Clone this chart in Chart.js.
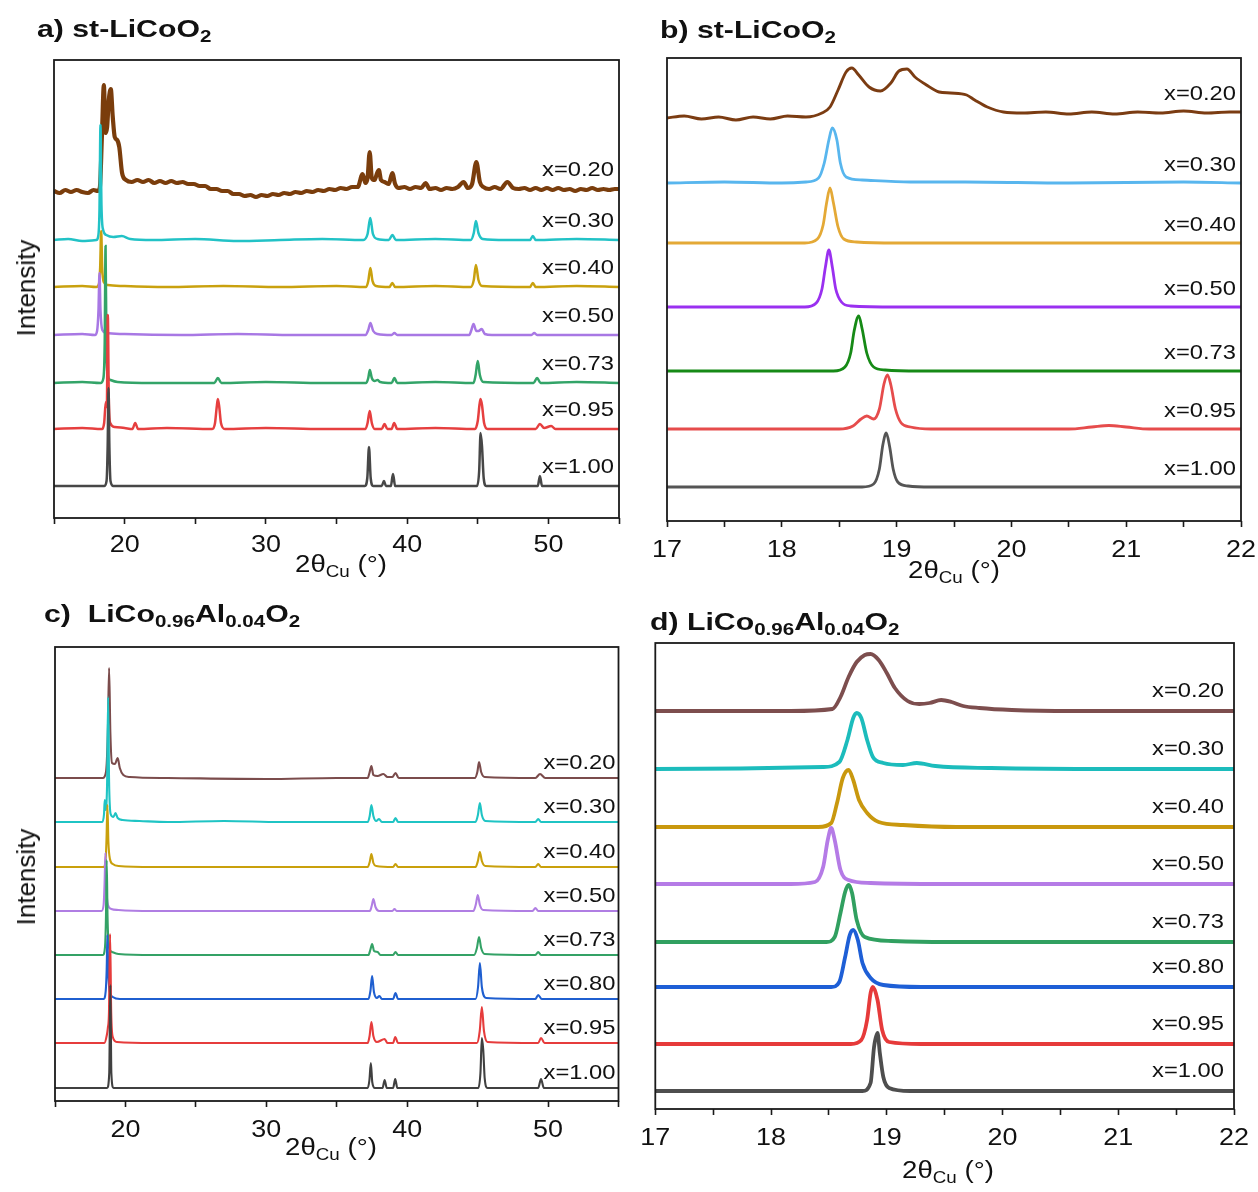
<!DOCTYPE html>
<html>
<head>
<meta charset="utf-8">
<script src="https://cdn.jsdelivr.net/npm/chart.js@4.4.1/dist/chart.umd.min.js"></script>
<style>
html,body{margin:0;padding:0;background:#fff;}
body{width:1258px;height:1192px;position:relative;overflow:hidden;font-family:"Liberation Sans",Arial,sans-serif;color:#111;}
canvas{position:absolute;}
.t{position:absolute;white-space:nowrap;line-height:1;}
.title{font-weight:bold;font-size:24px;transform-origin:0 0;}
.t sub{font-size:0.68em;vertical-align:baseline;position:relative;top:0.32em;line-height:0;}
.ax{font-size:23px;transform:translateX(-50%) scaleX(1.2);}
.yl{font-size:26px;transform:translate(-50%,-50%) rotate(-90deg);}
</style>
</head>
<body>
<canvas id="pa" width="629" height="600" style="left:0;top:0"></canvas>
<canvas id="pb" width="629" height="600" style="left:629px;top:0"></canvas>
<canvas id="pc" width="629" height="592" style="left:0;top:600px"></canvas>
<canvas id="pd" width="629" height="592" style="left:629px;top:600px"></canvas>

<div class="t title" style="left:37px;top:16.7px;transform:scaleX(1.26)">a) st-LiCoO<sub>2</sub></div>
<div class="t title" style="left:660px;top:17.7px;transform:scaleX(1.26)">b) st-LiCoO<sub>2</sub></div>
<div class="t title" style="left:44px;top:601.7px;transform:scaleX(1.26)">c)&nbsp; LiCo<sub>0.96</sub>Al<sub>0.04</sub>O<sub>2</sub></div>
<div class="t title" style="left:650px;top:609.7px;transform:scaleX(1.26)">d) LiCo<sub>0.96</sub>Al<sub>0.04</sub>O<sub>2</sub></div>

<div class="t ax" style="left:341px;top:552.5px">2θ<sub>Cu</sub> (°)</div>
<div class="t ax" style="left:954px;top:558.5px">2θ<sub>Cu</sub> (°)</div>
<div class="t ax" style="left:331px;top:1135.5px">2θ<sub>Cu</sub> (°)</div>
<div class="t ax" style="left:948px;top:1158.5px">2θ<sub>Cu</sub> (°)</div>

<div class="t yl" style="left:26px;top:288px">Intensity</div>
<div class="t yl" style="left:26px;top:877px">Intensity</div>

<script>
// ---------- a) st-LiCoO2, wide 2θ scan: [2θ, intensity above the trace's own baseline] ----------
const compsA = ['0.20', '0.30', '0.40', '0.50', '0.73', '0.95', '1.00'];
const offsetsA = [326, 278, 231, 183, 135, 89, 32];
const a020 = [[15,1],[15.4,-1],[15.8,2],[16.2,0],[16.6,2],[17,0],[17.4,-1],[17.8,2],[18.1,1],[18.25,5],[18.39,55],[18.53,107],[18.65,59],[18.76,65],[18.88,92],[19.02,103],[19.16,75],[19.3,55],[19.47,52],[19.62,45],[19.82,19],[20.1,12],[20.5,10],[20.9,12],[21.3,10],[21.7,12],[22.1,9],[22.5,11],[22.9,9],[23.3,11],[23.7,9],[24.1,10],[24.5,8],[24.9,8],[25.3,6],[25.7,6],[26.1,3],[26.5,3],[26.9,1],[27.3,1],[27.7,-2],[28.1,-2],[28.5,-4],[28.9,-3],[29.3,-5],[29.7,-3],[30.1,-4],[30.5,-2],[30.9,-3],[31.3,-1],[31.7,-2],[32.1,0],[32.5,-1],[32.9,1],[33.3,0],[33.7,2],[34.1,1],[34.5,3],[34.9,2],[35.3,4],[35.7,3],[36.1,5],[36.5,5],[36.85,18],[37.05,9],[37.2,14],[37.35,40],[37.5,14],[37.7,12],[37.85,18],[38.0,22],[38.15,12],[38.4,10],[38.7,8],[38.95,19],[39.15,8],[39.4,4],[39.8,5],[40.2,3],[40.6,5],[41.0,4],[41.3,9],[41.6,3],[42.0,4],[42.4,2],[42.8,4],[43.2,3],[43.6,5],[44.0,10],[44.3,4],[44.6,8],[44.9,30],[45.15,10],[45.4,5],[45.8,3],[46.2,5],[46.6,3],[47.1,10],[47.5,4],[47.9,3],[48.3,4],[48.7,2],[49.1,4],[49.5,2],[49.9,4],[50.3,2],[50.7,4],[51.1,2],[51.5,3],[51.9,1],[52.3,3],[52.7,2],[53.1,4],[53.5,2],[53.9,3],[54.3,2],[54.7,3],[55,3]];
const a030 = [[15,0],[16,1],[17,-1],[18,0],[18.12,3],[18.22,30],[18.29,115],[18.36,35],[18.48,10],[18.7,5],[19.2,3],[19.8,4],[20.4,1],[22,0],[25,1],[28,-1],[31,0],[34,1],[36.9,0],[37.2,6],[37.39,22],[37.58,6],[37.9,1],[38.7,0],[38.96,5],[39.2,0],[42,1],[44.5,0],[44.72,7],[44.87,19],[45.05,7],[45.35,1],[47,0],[48.7,0],[48.9,4],[49.1,0],[52,1],[55,0]];
const a040 = [[15,0],[17,1],[18,0],[18.18,3],[18.27,20],[18.34,56],[18.41,20],[18.52,5],[18.8,2],[20,1],[23,0],[27,1],[31,0],[35,1],[37.1,0],[37.25,6],[37.4,19],[37.55,6],[37.8,1],[38.75,0],[38.95,4],[39.15,0],[42,1],[44.5,0],[44.72,7],[44.87,22],[45.05,7],[45.3,1],[48.7,0],[48.9,4],[49.1,0],[52,1],[55,0]];
const a050 = [[15,0],[17,1],[17.9,0],[18.05,4],[18.15,25],[18.22,62],[18.29,25],[18.42,5],[18.7,2],[20,1],[24,0],[28,1],[32,0],[37.05,0],[37.25,5],[37.4,12],[37.6,4],[37.9,1],[38.9,0],[39.1,2],[39.3,0],[44.4,0],[44.55,5],[44.7,11],[44.9,4],[45.05,4],[45.28,6],[45.5,1],[46,0],[48.8,0],[49,2],[49.2,0],[55,0]];
const a073 = [[15,0],[17,1],[18.3,0],[18.5,5],[18.59,40],[18.65,137],[18.71,40],[18.8,8],[19.0,3],[19.5,1],[22,0],[26.35,0],[26.6,5],[26.85,0],[30,1],[34,0],[37.1,0],[37.25,5],[37.36,13],[37.5,5],[37.7,2],[37.9,3],[38.1,1],[38.9,0],[39.1,5],[39.3,0],[42,1],[44.7,0],[44.85,8],[45.0,22],[45.15,8],[45.4,1],[48.95,0],[49.2,5],[49.45,0],[52,1],[55,0]];
const a095 = [[15,0],[17,1],[18.4,0],[18.55,6],[18.67,27],[18.74,22],[18.81,114],[18.88,30],[18.98,6],[19.3,2],[20.0,1],[20.55,0],[20.75,6],[20.95,0],[23,1],[26.2,0],[26.4,6],[26.52,22],[26.6,30],[26.7,22],[26.82,6],[27.1,0],[30,1],[34,0],[37.05,0],[37.2,6],[37.35,18],[37.5,6],[37.7,0],[38.2,0],[38.4,5],[38.6,0],[38.9,0],[39.08,6],[39.3,0],[42,1],[44.8,0],[45.0,8],[45.13,25],[45.2,30],[45.3,24],[45.45,6],[45.7,0],[49.1,0],[49.4,5],[49.7,1],[50.2,3],[50.5,0],[55,0]];
const a100 = [[15,0],[18.55,0],[18.72,5],[18.8,40],[18.86,98],[18.92,40],[19.0,5],[19.2,0],[37.0,0],[37.18,8],[37.3,39],[37.42,8],[37.6,0],[38.2,0],[38.36,5],[38.5,0],[38.85,0],[39.0,12],[39.15,0],[44.95,0],[45.1,15],[45.2,53],[45.3,40],[45.42,8],[45.6,0],[49.25,0],[49.4,10],[49.55,0],[55,0]];
const seriesA = [a020, a030, a040, a050, a073, a095, a100];

// ---------- b) st-LiCoO2, (003) region ----------
const compsB = ['0.20', '0.30', '0.40', '0.50', '0.73', '0.95', '1.00'];
const offsetsB = [403, 338, 278, 214, 150, 92, 34];
const b020 = [[17,0],[17.15,2],[17.3,-1],[17.45,1],[17.6,-2],[17.75,1],[17.9,-1],[18.05,2],[18.21,1],[18.35,5],[18.42,11],[18.49,28],[18.56,46],[18.61,50],[18.67,43],[18.76,31],[18.86,27],[18.95,35],[19.02,47],[19.09,49],[19.16,41],[19.26,33],[19.37,26],[19.47,25],[19.61,23],[19.68,18],[19.79,11],[19.93,6],[20.1,5],[20.3,6],[20.5,4],[20.7,6],[20.9,4],[21.1,6],[21.3,5],[21.5,7],[21.7,5],[21.9,6],[22,6]];
const b030 = [[17,0],[17.5,1],[18,0],[18.21,1],[18.32,5],[18.37,20],[18.41,43],[18.44,55],[18.48,43],[18.51,20],[18.56,6],[18.7,3],[19.12,1],[19.6,1],[20.5,0],[21.5,1],[22,0]];
const b040 = [[17,0],[17.5,0],[18.2,0],[18.31,4],[18.36,18],[18.39,40],[18.42,55],[18.45,40],[18.49,16],[18.54,4],[18.65,1],[19,0],[20,0],[21,0],[22,0]];
const b050 = [[17,0],[18.2,0],[18.3,4],[18.35,18],[18.38,40],[18.41,57],[18.44,40],[18.47,18],[18.52,5],[18.6,1],[19,0],[22,0]];
const b073 = [[17,0],[18.45,0],[18.55,4],[18.6,18],[18.63,40],[18.67,55],[18.7,42],[18.74,18],[18.8,4],[18.9,1],[19.2,0],[22,0]];
const b095 = [[17,0],[18.5,0],[18.62,3],[18.69,10],[18.74,13],[18.8,10],[18.85,20],[18.89,45],[18.92,54],[18.95,44],[18.99,20],[19.04,6],[19.12,2],[19.3,0],[20.5,0],[20.7,2],[20.85,3.5],[21.0,2],[21.2,0],[22,0]];
const b100 = [[17,0],[18.7,0],[18.8,3],[18.85,18],[18.88,42],[18.91,54],[18.94,40],[18.97,18],[19.01,5],[19.1,1],[19.3,0],[22,0]];
const seriesB = [b020, b030, b040, b050, b073, b095, b100];

// ---------- c) LiCo0.96Al0.04O2, wide 2θ scan ----------
const compsC = ['0.20', '0.30', '0.40', '0.50', '0.73', '0.80', '0.95', '1.00'];
const offsetsC = [323, 279, 234, 190, 146, 102, 58, 13];
const c020 = [[15,0],[18.4,0],[18.62,6],[18.75,45],[18.84,110],[18.93,45],[19.05,15],[19.25,14],[19.45,20],[19.6,10],[19.85,3],[20.3,1],[23,0],[30,-1],[35,0],[37.2,0],[37.32,5],[37.46,12],[37.6,3],[37.9,2],[38.31,4],[38.6,1],[38.95,1],[39.17,5],[39.4,0],[44.8,0],[44.98,6],[45.1,16],[45.25,6],[45.5,1],[49.1,0],[49.43,4],[49.8,0],[55,0]];
const c030 = [[15,0],[18.35,0],[18.48,8],[18.53,22],[18.6,12],[18.7,40],[18.77,125],[18.84,40],[18.95,8],[19.15,5],[19.29,9],[19.45,4],[19.8,2],[21,1],[23,0],[27,1],[31,0],[37.2,0],[37.34,6],[37.46,17],[37.6,6],[37.8,1],[38.0,3],[38.2,0],[39.0,0],[39.17,4],[39.35,0],[44.85,0],[45.02,7],[45.16,19],[45.3,7],[45.55,1],[49.1,0],[49.3,3],[49.5,0],[55,0]];
const c040 = [[15,0],[18.45,0],[18.6,8],[18.66,30],[18.72,62],[18.79,25],[18.9,8],[19.1,3],[19.5,1],[22,0],[37.2,0],[37.34,5],[37.46,13],[37.6,4],[37.8,1],[39.0,0],[39.17,3],[39.35,0],[44.85,0],[45.02,6],[45.16,15],[45.3,6],[45.55,1],[49.1,0],[49.3,3],[49.5,0],[55,0]];
const c050 = [[15,0],[18.3,0],[18.45,6],[18.52,28],[18.58,58],[18.65,22],[18.76,6],[19.0,2],[19.5,1],[22,0],[37.35,0],[37.48,5],[37.6,12],[37.75,4],[38.0,0],[38.95,0],[39.1,2],[39.25,0],[44.7,0],[44.88,7],[45.01,16],[45.16,6],[45.4,1],[48.9,0],[49.1,3],[49.3,0],[55,0]];
const c073 = [[15,0],[18.4,0],[18.55,8],[18.62,40],[18.67,95],[18.73,38],[18.83,8],[19.05,3],[19.5,1],[22,0],[37.25,0],[37.38,5],[37.51,11],[37.65,4],[37.9,3],[38.1,0],[39.0,0],[39.17,3],[39.35,0],[44.75,0],[44.95,7],[45.1,18],[45.25,7],[45.5,1],[49.1,0],[49.3,3],[49.5,0],[55,0]];
const c080 = [[15,0],[18.45,0],[18.6,8],[18.67,30],[18.72,64],[18.78,28],[18.88,8],[19.1,2],[19.6,0],[22,0],[37.25,0],[37.39,8],[37.51,23],[37.64,7],[37.85,1],[38.03,3],[38.2,0],[39.0,0],[39.17,6],[39.35,0],[44.85,0],[45.03,12],[45.16,36],[45.3,12],[45.6,1],[49.1,0],[49.3,4],[49.55,0],[55,0]];
const c095 = [[15,0],[18.5,0],[18.68,8],[18.75,15],[18.83,30],[18.91,109],[18.99,30],[19.1,6],[19.4,1],[22,0],[37.2,0],[37.33,7],[37.46,21],[37.6,7],[37.85,1],[38.4,4],[38.6,0],[39.0,0],[39.15,6],[39.35,0],[44.95,0],[45.15,12],[45.3,36],[45.45,12],[45.7,1],[49.3,0],[49.5,5],[49.75,0],[55,0]];
const c100 = [[15,0],[18.7,0],[18.85,15],[18.93,103],[19.0,15],[19.15,0],[37.2,0],[37.32,8],[37.42,25],[37.52,6],[37.7,0],[38.25,0],[38.4,8],[38.55,0],[39.0,0],[39.15,9],[39.3,0],[45.05,0],[45.2,15],[45.3,50],[45.4,38],[45.5,10],[45.7,0],[49.3,0],[49.5,9],[49.7,0],[55,0]];
const seriesC = [c020, c030, c040, c050, c073, c080, c095, c100];

// ---------- d) LiCo0.96Al0.04O2, (003) region ----------
const compsD = ['0.20', '0.30', '0.40', '0.50', '0.73', '0.80', '0.95', '1.00'];
const offsetsD = [398, 340, 282, 225, 167, 122, 65, 18];
const d020 = [[17,0],[18.17,0],[18.53,2],[18.6,14],[18.67,34],[18.74,49],[18.81,56],[18.86,57],[18.93,51],[19.0,38],[19.07,23],[19.18,10],[19.28,7],[19.37,8],[19.47,11],[19.56,9],[19.66,5],[19.8,3],[20.08,1],[20.6,0],[22,0]];
const d030 = [[17,0],[18.45,2],[18.59,7],[18.66,29],[18.71,51],[18.74,56],[18.78,51],[18.83,29],[18.88,12],[18.97,6],[19.14,4],[19.26,6],[19.42,3],[19.9,1],[20.95,0],[22,0]];
const d040 = [[17,0],[18.41,0],[18.52,4],[18.57,24],[18.62,49],[18.67,57],[18.71,47],[18.76,27],[18.83,14],[18.93,5],[19.14,2],[19.6,0],[22,0]];
const d050 = [[17,0],[18.17,0],[18.38,2],[18.45,17],[18.49,44],[18.52,56],[18.55,44],[18.6,14],[18.67,4],[18.86,1],[19.5,0],[22,0]];
const d073 = [[17,0],[18.48,0],[18.55,5],[18.6,29],[18.64,50],[18.67,57],[18.7,49],[18.74,22],[18.81,5],[19.04,1],[19.5,0],[22,0]];
const d080 = [[17,0],[18.52,0],[18.59,5],[18.64,30],[18.68,52],[18.71,57],[18.75,47],[18.79,24],[18.86,9],[18.97,2],[19.3,0],[22,0]];
const d095 = [[17,0],[18.69,0],[18.78,4],[18.83,24],[18.86,51],[18.88,57],[18.92,44],[18.96,14],[19.02,2],[19.3,0],[22,0]];
const d100 = [[17,0],[18.79,0],[18.86,8],[18.89,44],[18.92,58],[18.94,38],[18.97,14],[19.02,3],[19.2,0],[22,0]];
const seriesD = [d020, d030, d040, d050, d073, d080, d095, d100];

// ---------- trace colours and widths ----------
const coloursA = ['#7a3d0c', '#22c2c6', '#c9a10e', '#a878e4', '#33a468', '#e63f3f', '#474747'];
const widthsA  = [4.2, 2.5, 2.5, 2.5, 2.5, 2.5, 2.5];
const coloursB = ['#7b3c12', '#58b6ee', '#e4a936', '#9a30f0', '#168a16', '#e64c4c', '#555555'];
const widthsB  = [2.9, 2.8, 2.8, 2.8, 2.8, 2.8, 2.8];
const coloursC = ['#7b4c4c', '#1fc4c4', '#c9a00c', '#b07ee3', '#34a266', '#1f5fd0', '#e63c3c', '#404040'];
const widthsC  = [2.1, 2.1, 2.1, 2.1, 2.1, 2.1, 2.1, 2.1];
const coloursD = ['#7d4e4e', '#1cbcbc', '#c9980e', '#b57be6', '#31a060', '#1e5fd6', '#e63a3a', '#4e4e4e'];
const widthsD  = [3.8, 3.8, 3.8, 3.8, 3.8, 3.8, 3.8, 3.8];

const FONT = '"Liberation Sans", Arial, sans-serif';

function buildSets(series, offsets, comps, colours, widths) {
  const n = series.length;
  return series.map((pts, i) => ({
    label: 'x=' + comps[i],
    data: pts.map(([x, y]) => ({ x, y: y + offsets[i] })),
    borderColor: colours[i],
    borderWidth: widths[i],
    pointRadius: 0,
    fill: false,
    cubicInterpolationMode: 'monotone',
    order: n - i
  }));
}

// frame, stretched tick labels and the x=… trace labels
function decor(o) {
  return {
    id: 'decor',
    afterDraw(chart) {
      const { ctx, chartArea: a } = chart;
      const xs = chart.scales.x, ys = chart.scales.y;
      ctx.save();
      ctx.strokeStyle = '#1a1a1a';
      ctx.lineWidth = 1.8;
      ctx.strokeRect(a.left, a.top, a.right - a.left, a.bottom - a.top);

      ctx.fillStyle = '#111';
      ctx.font = '23px ' + FONT;
      ctx.textAlign = 'center';
      ctx.textBaseline = 'alphabetic';
      xs.ticks.forEach(t => {
        if (!o.labelled(t.value)) return;
        const px = xs.getPixelForValue(t.value);
        ctx.save();
        ctx.translate(px, a.bottom + o.tickDy);
        ctx.scale(1.17, 1);
        ctx.fillText(String(t.value), 0, 0);
        ctx.restore();
      });

      ctx.font = '21px ' + FONT;
      ctx.textAlign = 'right';
      ctx.textBaseline = 'middle';
      chart.data.datasets.forEach(ds => {
        const last = ds.data[ds.data.length - 1];
        const py = ys.getPixelForValue(last.y) - o.labelGap;
        ctx.save();
        ctx.translate(a.right - o.labelInset, py);
        ctx.scale(1.13, 1);
        ctx.fillText(ds.label, 0, 0);
        ctx.restore();
      });
      ctx.restore();
    }
  };
}

function panel(id, sets, xr, yMax, pad, o) {
  new Chart(document.getElementById(id), {
    type: 'line',
    data: { datasets: sets },
    options: {
      responsive: false,
      maintainAspectRatio: false,
      devicePixelRatio: 1,
      animation: false,
      events: [],
      layout: { padding: pad },
      plugins: { legend: { display: false }, tooltip: { enabled: false } },
      scales: {
        x: {
          type: 'linear', min: xr[0], max: xr[1],
          ticks: { display: false, stepSize: xr[2] },
          grid: { display: true, drawOnChartArea: false, drawTicks: true, tickLength: 6, tickColor: '#1a1a1a', tickWidth: 1.6 },
          border: { display: false },
          afterFit(s) { s.height = 10; }
        },
        y: { type: 'linear', display: false, min: 0, max: yMax }
      }
    },
    plugins: [decor(o)]
  });
}

const everyTen = v => Math.abs(v % 10) < 1e-6;
const integer = v => Math.abs(v - Math.round(v)) < 1e-6;

panel('pa', buildSets(seriesA, offsetsA, compsA, coloursA, widthsA), [15, 55, 5], 458,
  { left: 54, right: 10, top: 60, bottom: 72 },
  { labelled: everyTen, tickDy: 34, labelGap: 19, labelInset: 5 });
panel('pb', buildSets(seriesB, offsetsB, compsB, coloursB, widthsB), [17, 22, 0.5], 463,
  { left: 38, right: 17, top: 58, bottom: 69 },
  { labelled: integer, tickDy: 36, labelGap: 18, labelInset: 5 });
panel('pc', buildSets(seriesC, offsetsC, compsC, coloursC, widthsC), [15, 55, 5], 454,
  { left: 55, right: 10.5, top: 47, bottom: 81 },
  { labelled: everyTen, tickDy: 36, labelGap: 15, labelInset: 3 });
panel('pd', buildSets(seriesD, offsetsD, compsD, coloursD, widthsD), [17, 22, 0.5], 466,
  { left: 26.3, right: 24, top: 43, bottom: 73 },
  { labelled: integer, tickDy: 36, labelGap: 20, labelInset: 10 });
</script>
</body>
</html>
